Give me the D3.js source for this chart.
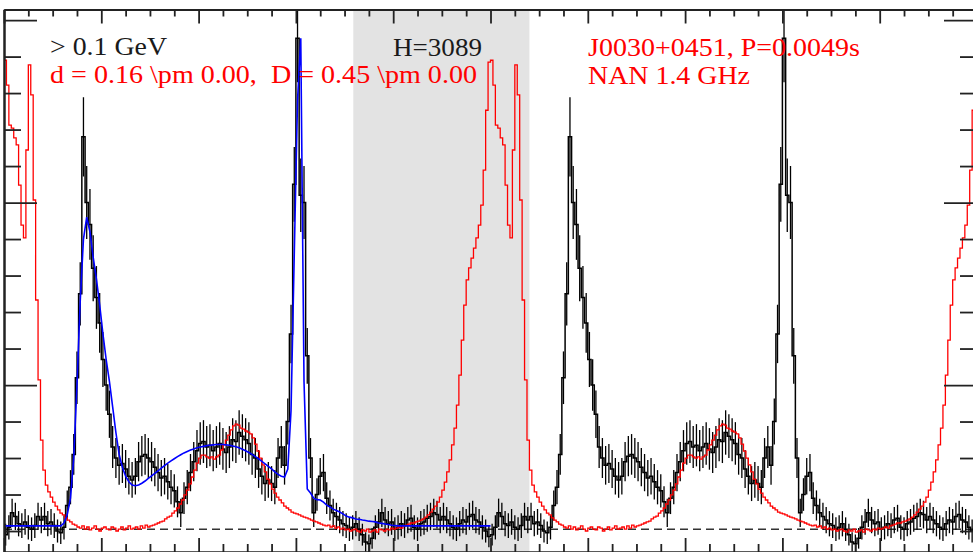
<!DOCTYPE html>
<html><head><meta charset="utf-8">
<script src="https://cdn.jsdelivr.net/npm/d3@7"></script>
<style>html,body{margin:0;padding:0;background:#fff;overflow:hidden;} svg{display:block;}</style>
</head><body>
<svg id="chart" width="973" height="552"></svg>
<script>
// ---- DATA ----
// gamma-ray counts per phase bin (150 bins per rotation), > 0.1 GeV
const gammaCounts = [
  9, 11, 15, 14, 12, 11.5, 12.5, 11, 10.5, 11.5, 14, 13, 14, 12, 12.5, 11.5, 10, 9.5, 11,
  17, 22, 31, 52, 75, 118, 100, 94, 82, 74, 67, 57, 50, 42,
  33, 30, 28, 28.5, 27, 25, 24, 25, 29, 30.5, 31, 30, 29, 27.5, 26, 24.5, 25, 23.5, 22, 21, 18, 15, 19,
  22, 26, 29, 32, 34, 34.5, 33, 33.5, 32, 33, 34, 32.5, 31.5, 33, 35, 34.5, 37, 36, 35, 34,
  31, 30, 27, 25, 23, 24, 23, 22, 30, 33, 28,
  40, 64, 105, 145, 102, 100, 58, 30,
  15, 20, 25, 26, 19, 17, 15, 14, 13, 12, 11.5, 10.5, 11, 12, 10.5, 9, 7, 6.5, 8, 11,
  12.5, 15, 13, 12, 12.5, 10.5, 11, 12, 11.5, 13, 13.5, 11, 10.5, 12, 12.5, 13.5, 14, 15, 14.5, 13,
  14, 13, 12, 11, 10.5, 12, 13, 12.5, 14, 14.5, 13, 12.5, 11, 10, 8.5
];
// fitted pulse-profile model, one rotation (150 bins)
const fitModel = [
  11.4, 11.4, 11.4, 11.4, 11.4, 11.4, 11.4, 11.4, 11.4, 11.4, 11.4, 11.4, 11.4, 11.4, 11.4, 11.4, 11.4, 11.4,
  12.2, 14.5, 19, 30, 50, 73, 90, 96, 92, 85, 79, 72, 64, 57, 51, 44, 37, 31, 27.5, 25, 23.5, 22.6,
  22.4, 22.6, 23.1, 23.7, 24.4, 25.1, 25.8, 26.5, 27.2, 27.9, 28.6, 29.2, 29.8, 30.4, 30.9, 31.4,
  31.8, 32.2, 32.5, 32.8, 33.0, 33.2, 33.4, 33.5, 33.6, 33.7, 33.7, 33.7, 33.6, 33.5, 33.3, 33.1,
  32.8, 32.4, 32.0, 31.5, 31.0, 30.4, 29.8, 29.1, 28.4, 27.7, 27.0, 26.2, 25.5, 25.0, 24.8,
  27, 43, 86, 128, 145, 51, 21.5, 20.4,
  19.0, 18.6, 18.5, 17.9, 17.1, 16.6, 16.0, 15.6, 15.2, 14.7, 14.1, 13.8, 13.6, 13.3, 13.2, 13.0,
  12.9, 12.7, 12.6, 12.5, 12.2, 12.1, 11.9, 11.8, 11.6, 11.5,
  11.4, 11.4, 11.4, 11.4, 11.4, 11.4, 11.4, 11.4, 11.4, 11.4, 11.4, 11.4, 11.4, 11.4, 11.4,
  11.4, 11.4, 11.4, 11.4, 11.4, 11.4, 11.4, 11.4, 11.4, 11.4, 11.4, 11.4, 11.4, 11.4
];
// radio profile (NAN 1.4 GHz), scaled, 200 bins per rotation
const radioProfile = [
  139.0, 132.2, 121.2, 120.4, 117.7, 115.8, 104.8, 93.8, 90.3, 114.4,
  137.7, 129.5, 100.7, 73.3, 51.4, 34.9, 26.7, 22.6, 20.7, 19.3,
  17.9, 16.8, 15.8, 14.9, 14.4, 13.6, 13.0, 12.5, 11.9, 11.6,
  11.1, 10.8, 11.4, 10.5, 11.1, 10.3, 10.8, 11.4, 10.5, 10.0,
  10.8, 11.1, 10.5, 10.3, 11.1, 10.8, 10.0, 10.5, 11.1, 10.3,
  10.8, 11.4, 10.5, 10.8, 11.1, 10.5, 11.4, 10.8, 11.6, 11.1,
  11.4, 11.6, 11.9, 12.2, 12.5, 12.7, 13.3, 13.8, 14.1, 14.9,
  15.5, 16.3, 17.4, 18.5, 19.9, 21.2, 22.9, 24.8, 26.7, 28.6,
  30.0, 30.8, 30.8, 30.3, 30.0, 30.3, 29.7, 30.3, 30.8, 32.2,
  33.6, 34.9, 36.3, 37.7, 38.8, 39.3, 39.0, 38.2, 37.9, 37.4,
  37.1, 36.6, 35.5, 33.8, 31.9, 30.0, 28.1, 26.2, 24.2, 22.9,
  21.5, 20.4, 19.3, 18.5, 17.7, 16.8, 16.3, 15.8, 15.2, 14.9,
  14.7, 14.4, 14.1, 13.8, 13.6, 13.3, 13.0, 12.7, 12.5, 12.2,
  11.9, 11.6, 11.4, 11.6, 11.1, 11.4, 10.8, 11.1, 10.5, 10.8,
  10.3, 10.5, 10.0, 10.3, 10.5, 10.0, 9.7, 10.3, 10.0, 10.5,
  9.7, 10.0, 10.3, 9.7, 10.5, 10.3, 10.0, 10.5, 10.3, 10.8,
  10.5, 10.8, 11.1, 10.8, 11.4, 11.6, 11.9, 12.2, 12.2, 12.5,
  12.7, 13.0, 13.3, 13.8, 14.4, 15.2, 16.0, 16.8, 17.9, 19.3,
  21.2, 23.4, 26.2, 29.5, 33.6, 38.2, 44.5, 52.7, 62.3, 71.9,
  78.8, 82.1, 84.8, 87.5, 90.3, 93.8, 99.3, 108.9, 125.3, 138.5
];
const offPulseInterval = [0.718, 1.080];
const backgroundLevel = 10.5;
const rotations = 2;
const phaseMajorTicks = [0, 0.2, 0.4, 0.6, 0.8, 1.0, 1.2, 1.4, 1.6, 1.8, 2.0];
const phaseMinorTicks = d3.range(0.05, 2, 0.05).filter(p => Math.abs(p * 5 - Math.round(p * 5)) > 1e-6);
const countMajorTicks = [50, 100, 150];
const countMinorTicks = [10, 20, 30, 40, 60, 70, 80, 90, 110, 120, 130, 140];
const labels = [
  {text: "> 0.1 GeV", color: "#1a1a1a"},
  {text: "d = 0.16 \\pm 0.00,  D = 0.45 \\pm 0.00", color: "#ff0000"},
  {text: "H=3089", color: "#1a1a1a"},
  {text: "J0030+0451, P=0.0049s", color: "#ff0000"},
  {text: "NAN 1.4 GHz", color: "#ff0000"}
];

// ---- LAYOUT ----
const L = 4, R = 977, T = 9.5, B = 552;
const svg = d3.select("#chart");
const x = d3.scaleLinear().domain([0, rotations]).range([L, R]);
const y = d3.scaleLinear().domain([4.25, 152.9]).range([B, T]);

svg.append("defs").append("clipPath").attr("id", "clip")
  .append("rect").attr("x", L).attr("y", T).attr("width", R - L).attr("height", B - T);
const plot = svg.append("g").attr("clip-path", "url(#clip)");

// off-pulse shade
plot.append("rect")
  .attr("x", x(offPulseInterval[0])).attr("y", T)
  .attr("width", x(offPulseInterval[1]) - x(offPulseInterval[0]))
  .attr("height", B - T).attr("fill", "#e3e3e3");

// background level
plot.append("line")
  .attr("x1", L).attr("x2", R)
  .attr("y1", y(backgroundLevel)).attr("y2", y(backgroundLevel))
  .attr("stroke", "#333").attr("stroke-width", 1.4).attr("stroke-dasharray", "8,5");

function stepPoints(values, nRot) {
  const n = values.length, pts = [];
  for (let r = 0; r < nRot; r++) values.forEach((v, i) => pts.push([r + i / n, v]));
  pts.push([nRot, values[n - 1]]);
  return pts;
}
const stepLine = d3.line().x(d => x(d[0])).y(d => y(d[1])).curve(d3.curveStepAfter);

// gamma histogram
const nG = gammaCounts.length;
plot.append("path").datum(stepPoints(gammaCounts, rotations))
  .attr("d", stepLine).attr("fill", "none").attr("stroke", "#000").attr("stroke-width", 1.5);
const errData = [];
for (let r = 0; r < rotations; r++) gammaCounts.forEach((v, i) => errData.push({p: r + (i + 0.5) / nG, v}));
plot.append("g").selectAll("line").data(errData).join("line")
  .attr("x1", d => x(d.p)).attr("x2", d => x(d.p))
  .attr("y1", d => y(d.v - Math.sqrt(d.v))).attr("y2", d => y(d.v + Math.sqrt(d.v)))
  .attr("stroke", "#000").attr("stroke-width", 1.3);

// radio profile
plot.append("path").datum(stepPoints(radioProfile, rotations))
  .attr("d", stepLine).attr("fill", "none").attr("stroke", "#ff0000").attr("stroke-width", 1.3);

// fit model (one rotation), smooth line through bin centres
const nF = fitModel.length;
const fitPts = [[0, fitModel[0]]].concat(fitModel.map((v, i) => [(i + 0.5) / nF, v]), [[1, fitModel[nF - 1]]]);
plot.append("path").datum(fitPts)
  .attr("d", d3.line().x(d => x(d[0])).y(d => y(d[1])))
  .attr("fill", "none").attr("stroke", "#0000ff").attr("stroke-width", 1.6);

// ---- AXES ----
function styleAxis(g) {
  g.select(".domain").attr("stroke", "#222").attr("stroke-width", 2);
  g.selectAll(".tick line").attr("stroke", "#222").attr("stroke-width", 1.8);
  g.selectAll(".tick text").remove();
}
const axes = svg.append("g");
axes.append("g").attr("transform", `translate(0,${T})`)
  .call(d3.axisBottom(x).tickValues(phaseMinorTicks).tickSize(7).tickSizeOuter(0).tickFormat("")).call(styleAxis);
axes.append("g").attr("transform", `translate(0,${T})`)
  .call(d3.axisBottom(x).tickValues(phaseMajorTicks).tickSize(14).tickSizeOuter(0).tickFormat("")).call(styleAxis);
axes.append("g").attr("transform", `translate(0,${B})`)
  .call(d3.axisTop(x).tickValues(phaseMinorTicks).tickSize(8).tickSizeOuter(0).tickFormat("")).call(styleAxis);
axes.append("g").attr("transform", `translate(0,${B})`)
  .call(d3.axisTop(x).tickValues(phaseMajorTicks).tickSize(14).tickSizeOuter(0).tickFormat("")).call(styleAxis);
axes.append("g").attr("transform", `translate(${L},0)`)
  .call(d3.axisRight(y).tickValues(countMinorTicks).tickSize(17).tickSizeOuter(0).tickFormat("")).call(styleAxis);
axes.append("g").attr("transform", `translate(${L},0)`)
  .call(d3.axisRight(y).tickValues(countMajorTicks).tickSize(33).tickSizeOuter(0).tickFormat("")).call(styleAxis);
axes.append("g").attr("transform", `translate(${R},0)`)
  .call(d3.axisLeft(y).tickValues(countMinorTicks).tickSize(17).tickSizeOuter(0).tickFormat("")).call(styleAxis);
axes.append("g").attr("transform", `translate(${R},0)`)
  .call(d3.axisLeft(y).tickValues(countMajorTicks).tickSize(33).tickSizeOuter(0).tickFormat("")).call(styleAxis);

// ---- LABELS ----
const labelPos = [
  {x: 50, y: 55, w: 117},
  {x: 50, y: 83, w: 427},
  {x: 393, y: 56, w: 89},
  {x: 588, y: 56, w: 272},
  {x: 588, y: 84, w: 162}
];
svg.append("g").selectAll("text").data(labels).join("text")
  .attr("x", (d, i) => labelPos[i].x).attr("y", (d, i) => labelPos[i].y)
  .attr("textLength", (d, i) => labelPos[i].w).attr("lengthAdjust", "spacingAndGlyphs")
  .attr("xml:space", "preserve").style("white-space", "pre")
  .attr("font-family", "'Liberation Serif','Times New Roman',serif").attr("font-size", 25)
  .attr("fill", d => d.color).text(d => d.text);
</script>
</body></html>
